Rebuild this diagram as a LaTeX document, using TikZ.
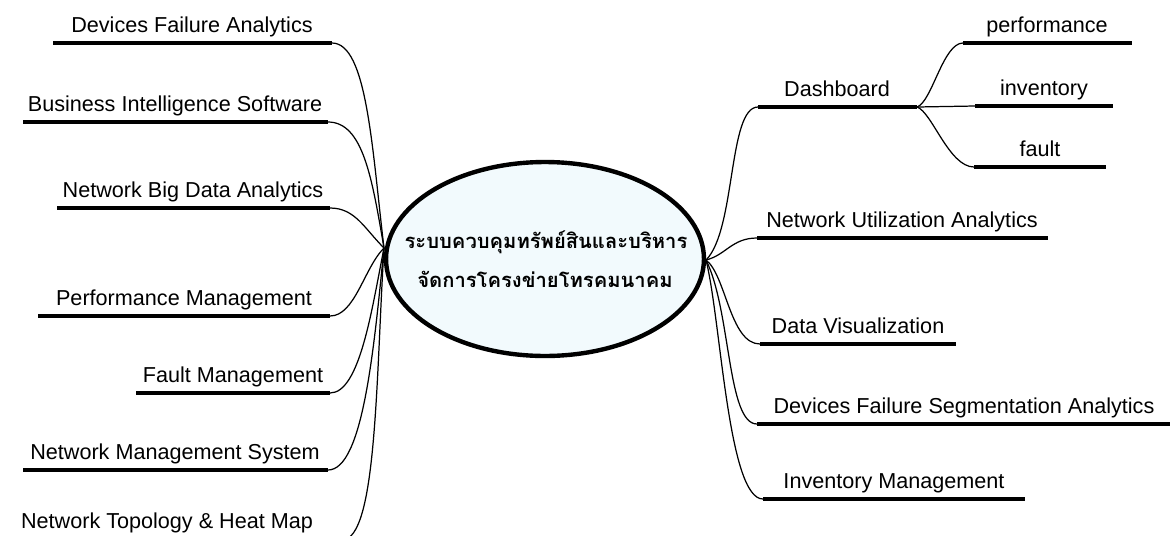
\documentclass[tikz,border=0pt]{standalone}
\usepackage{fontspec}
\setmainfont{Liberation Sans}
\newfontfamily\thaifont[Script=Thai]{Loma}
\usetikzlibrary{shapes.geometric}
\begin{document}
\begin{tikzpicture}[x=0.02cm,y=-0.02cm,
  bar/.style={line width=2.7pt},
  link/.style={line width=0.7pt},
  lbl/.style={anchor=base,inner sep=0pt,font=\fontsize{12.3}{14}\selectfont}]
\useasboundingbox (0,0) rectangle (1170,535);
\clip (0,0) rectangle (1170,535);
\node [draw,ellipse,line width=2.5pt,fill={rgb,255:red,242;green,250;blue,253},
  minimum width=6.36cm,minimum height=3.88cm] (hub) at (545,259) {};
\node [anchor=base,font=\thaifont\bfseries\fontsize{11.5}{14}\selectfont] (t1) at (546,248) {ระบบควบคุมทรัพย์สินและบริหาร};
\node [anchor=base,font=\thaifont\bfseries\fontsize{11.5}{14}\selectfont] (t2) at (545,287) {จัดการโครงข่ายโทรคมนาคม};
\coordinate (lj) at (384,248);
\coordinate (rj) at (706,260);
% left side
\coordinate (dfa-l) at (53,43);   \coordinate (dfa-r) at (332,43);
\coordinate (bis-l) at (23,122);  \coordinate (bis-r) at (328,122);
\coordinate (nbda-l) at (57,208); \coordinate (nbda-r) at (330,208);
\coordinate (pm-l) at (38,316);   \coordinate (pm-r) at (330,316);
\coordinate (fm-l) at (136,393);  \coordinate (fm-r) at (330,393);
\coordinate (nms-l) at (23,470);  \coordinate (nms-r) at (328,470);
\coordinate (nthm-l) at (10,540); \coordinate (nthm-r) at (342,540);
\draw [bar] (dfa-l) -- (dfa-r);
\draw [bar] (bis-l) -- (bis-r);
\draw [bar] (nbda-l) -- (nbda-r);
\draw [bar] (pm-l) -- (pm-r);
\draw [bar] (fm-l) -- (fm-r);
\draw [bar] (nms-l) -- (nms-r);
\draw [bar] (nthm-l) -- (nthm-r);
\node [lbl] (dfa) at (192,32) {Devices Failure Analytics};
\node [lbl] (bis) at (175,111) {Business Intelligence Software};
\node [lbl] (nbda) at (193,197) {Network Big Data Analytics};
\node [lbl] (pm) at (184,305) {Performance Management};
\node [lbl] (fm) at (233,382) {Fault Management};
\node [lbl] (nms) at (175,459) {Network Management System};
\node [lbl] (nthm) at (167,528) {Network Topology \& Heat Map};
\draw [link] (lj) .. controls +(-12,-100) and +(35,0) .. (dfa-r);
\draw [link] (lj) .. controls +(-12,-70) and +(35,0) .. (bis-r);
\draw [link] (lj) .. controls +(-20,-20) and +(25,0) .. (nbda-r);
\draw [link] (lj) .. controls +(-20,20) and +(25,0) .. (pm-r);
\draw [link] (lj) .. controls +(-12,60) and +(30,0) .. (fm-r);
\draw [link] (lj) .. controls +(-10,100) and +(35,0) .. (nms-r);
\draw [link] (lj) .. controls +(-8,130) and +(35,0) .. (nthm-r);
% right side
\coordinate (db-l) at (758,107);   \coordinate (db-r) at (917,107);
\coordinate (nua-l) at (757,238);  \coordinate (nua-r) at (1048,238);
\coordinate (dv-l) at (760,344);   \coordinate (dv-r) at (956,344);
\coordinate (dfsa-l) at (757,424); \coordinate (dfsa-r) at (1175,424);
\coordinate (im-l) at (763,499);   \coordinate (im-r) at (1025,499);
\draw [bar] (db-l) -- (db-r);
\draw [bar] (nua-l) -- (nua-r);
\draw [bar] (dv-l) -- (dv-r);
\draw [bar] (dfsa-l) -- (dfsa-r);
\draw [bar] (im-l) -- (im-r);
\node [lbl] (db) at (837,96) {Dashboard};
\node [lbl] (nua) at (902,227) {Network Utilization Analytics};
\node [lbl] (dv) at (858,333) {Data Visualization};
\node [lbl] (dfsa) at (964,413) {Devices Failure Segmentation Analytics};
\node [lbl] (im) at (894,488) {Inventory Management};
\draw [link] (rj) .. controls +(30,-30) and +(-30,0) .. (db-l);
\draw [link] (rj) .. controls +(20,-5) and +(-25,0) .. (nua-l);
\draw [link] (rj) .. controls +(20,15) and +(-30,0) .. (dv-l);
\draw [link] (rj) .. controls +(25,50) and +(-30,0) .. (dfsa-l);
\draw [link] (rj) .. controls +(15,60) and +(-35,0) .. (im-l);
% dashboard children
\coordinate (pf-l) at (963,43);  \coordinate (pf-r) at (1132,43);
\coordinate (iv-l) at (975,106); \coordinate (iv-r) at (1113,106);
\coordinate (ft-l) at (974,167); \coordinate (ft-r) at (1106,167);
\draw [bar] (pf-l) -- (pf-r);
\draw [bar] (iv-l) -- (iv-r);
\draw [bar] (ft-l) -- (ft-r);
\node [lbl] (pf) at (1047,32) {performance};
\node [lbl] (iv) at (1044,95) {inventory};
\node [lbl] (ft) at (1040,156) {fault};
\draw [link] (db-r) .. controls +(15,-5) and +(-20,0) .. (pf-l);
\draw [link] (db-r) -- (iv-l);
\draw [link] (db-r) .. controls +(15,5) and +(-25,0) .. (ft-l);
\end{tikzpicture}
\end{document}
